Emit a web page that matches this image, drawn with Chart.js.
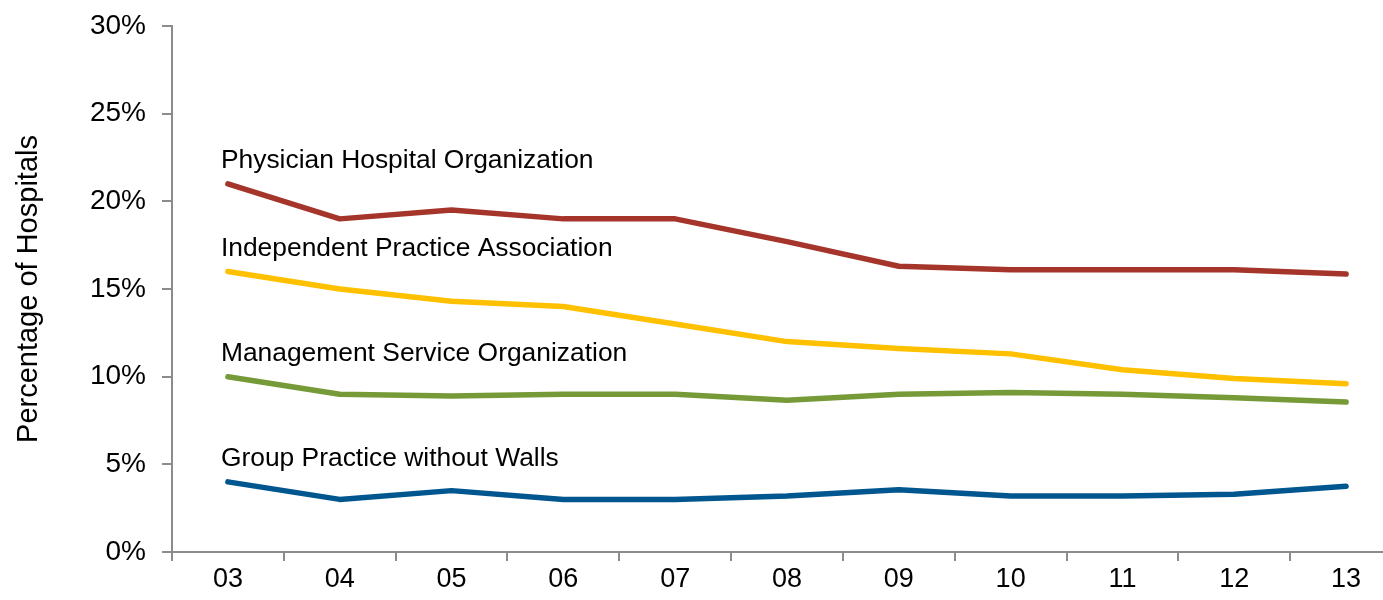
<!DOCTYPE html>
<html>
<head>
<meta charset="utf-8">
<script src="https://cdn.jsdelivr.net/npm/chart.js"></script>
<style>
  html, body { margin: 0; padding: 0; background: #fff; overflow: hidden; }
  #wrap { width: 1410px; height: 600px; }
</style>
</head>
<body>
<div id="wrap"><canvas id="line-chart" width="1410" height="600"></canvas></div>
<script>
// years (two digit), values in percent
var years = ['03','04','05','06','07','08','09','10','11','12','13'];
var pho = [21, 19, 19.5, 19, 19, 17.7, 16.3, 16.1, 16.1, 16.1, 15.85];
var ipa = [16, 15, 14.3, 14, 13, 12, 11.6, 11.3, 10.4, 9.9, 9.6];
var mso = [10, 9, 8.9, 9, 9, 8.65, 9, 9.1, 9, 8.8, 8.55];
var gpww = [4, 3, 3.5, 3, 3, 3.2, 3.55, 3.2, 3.2, 3.3, 3.75];
var yTicks = [0, 5, 10, 15, 20, 25, 30];

var fontFam = "'Liberation Sans', Arial, sans-serif";

// draws series name above first point
var seriesLabels = {
  id: 'seriesLabels',
  afterDatasetsDraw: function (chart) {
    var ctx = chart.ctx;
    ctx.save();
    ctx.font = '26.4px ' + fontFam;
    ctx.fillStyle = '#000';
    ctx.textBaseline = 'middle';
    ctx.textAlign = 'left';
    chart.data.datasets.forEach(function (ds, i) {
      var pt = chart.getDatasetMeta(i).data[0];
      ctx.fillText(ds.label, pt.x - 7, pt.y - 23);
    });
    ctx.restore();
  }
};

new Chart(document.getElementById('line-chart'), {
  type: 'line',
  data: {
    labels: years,
    datasets: [
      { label: 'Physician Hospital Organization', data: pho, borderColor: '#A5352A' },
      { label: 'Independent Practice Association', data: ipa, borderColor: '#FFC000' },
      { label: 'Management Service Organization', data: mso, borderColor: '#779A38' },
      { label: 'Group Practice without Walls', data: gpww, borderColor: '#00568F' }
    ]
  },
  options: {
    responsive: false,
    animation: false,
    layout: { padding: { top: 26, right: 8, left: 0, bottom: 0 } },
    elements: {
      line: { borderWidth: 5.5, tension: 0, borderCapStyle: 'round', borderJoinStyle: 'round', fill: false },
      point: { radius: 0 }
    },
    plugins: {
      legend: { display: false },
      tooltip: { enabled: false }
    },
    scales: {
      x: {
        offset: true,
        grid: { offset: true, drawOnChartArea: false, color: '#8c8c8c', tickLength: 9, lineWidth: 2 },
        border: { color: '#8c8c8c', width: 2 },
        ticks: { color: '#000', font: { family: fontFam, size: 27 }, padding: 2, maxRotation: 0 },
        afterFit: function (s) { s.height = 48; s.paddingLeft = 0; s.paddingRight = 0; }
      },
      y: {
        min: 0,
        max: 30,
        afterBuildTicks: function (s) { s.ticks = yTicks.map(function (v) { return { value: v }; }); },
        grid: { drawOnChartArea: false, color: '#8c8c8c', tickLength: 10, lineWidth: 2 },
        border: { color: '#8c8c8c', width: 2 },
        ticks: {
          color: '#000',
          font: { family: fontFam, size: 28 },
          padding: 16,
          callback: function (v) { return v + '%'; }
        },
        title: {
          display: true,
          text: 'Percentage of Hospitals',
          color: '#000',
          font: { family: fontFam, size: 29 },
          padding: { top: 12, bottom: 0 }
        },
        afterFit: function (s) { s.width = 172; s.paddingTop = 0; s.paddingBottom = 0; }
      }
    }
  },
  plugins: [seriesLabels]
});
</script>
</body>
</html>
